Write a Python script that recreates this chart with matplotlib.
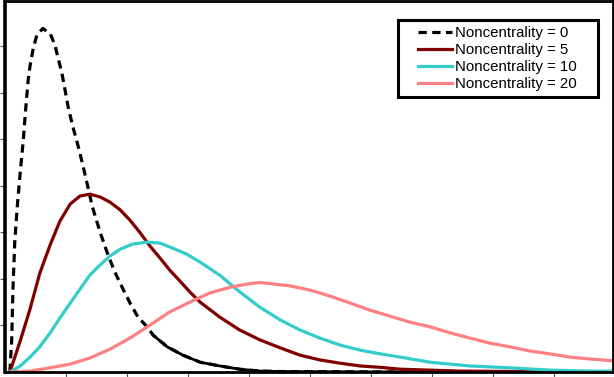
import matplotlib.pyplot as plt
import numpy as np
from matplotlib.patches import Rectangle

plt.rcParams['font.family'] = ['Liberation Sans', 'DejaVu Sans']

# values (x: 0..10, y: 0..8 in tick units)
x_nc0 = [0.08, 0.11, 0.13, 0.16, 0.20, 0.25, 0.30, 0.34, 0.38, 0.41, 0.46, 0.52, 0.62, 0.74,
         0.82, 0.87, 0.93, 0.98, 1.03, 1.11, 1.20, 1.28, 1.36, 1.43, 1.56, 1.69, 1.80, 1.92,
         2.05, 2.18, 2.33, 2.43, 2.66, 2.92, 3.20, 3.52, 3.85, 4.18, 4.51, 6.48, 9.95]
y_nc0 = [0.0, 0.69, 1.76, 2.79, 3.54, 4.29, 4.98, 5.67, 6.27, 6.57, 6.93, 7.23, 7.38, 7.27,
         7.02, 6.74, 6.44, 6.09, 5.73, 5.28, 4.85, 4.42, 3.97, 3.56, 3.00, 2.51, 2.15, 1.82,
         1.48, 1.18, 0.97, 0.79, 0.54, 0.36, 0.21, 0.13, 0.06, 0.02, 0.01, 0.0, 0.0]

x_nc5 = [0.08, 0.25, 0.41, 0.57, 0.74, 0.90, 1.07, 1.23, 1.39, 1.56, 1.72, 1.89, 2.05, 2.21,
         2.38, 2.54, 2.70, 2.87, 3.03, 3.20, 3.52, 3.85, 4.18, 4.51, 4.84, 5.16, 5.49, 5.82,
         6.15, 6.48, 7.46, 8.44, 9.97]
y_nc5 = [0.0, 0.67, 1.35, 2.12, 2.73, 3.24, 3.61, 3.78, 3.82, 3.76, 3.65, 3.48, 3.26, 3.00,
         2.70, 2.45, 2.19, 1.95, 1.72, 1.50, 1.18, 0.90, 0.69, 0.52, 0.36, 0.26, 0.19, 0.13,
         0.10, 0.06, 0.02, 0.01, 0.0]

x_nc10 = [0.08, 0.25, 0.41, 0.57, 0.74, 0.90, 1.07, 1.23, 1.39, 1.56, 1.72, 1.89, 2.10, 2.33,
          2.54, 2.75, 2.98, 3.20, 3.52, 3.85, 4.18, 4.51, 4.84, 5.16, 5.49, 5.82, 6.15, 6.48,
          6.97, 7.62, 8.28, 8.93, 9.59, 9.97]
y_nc10 = [0.0, 0.13, 0.32, 0.54, 0.84, 1.16, 1.48, 1.78, 2.08, 2.30, 2.49, 2.64, 2.75, 2.79,
          2.77, 2.66, 2.53, 2.36, 2.08, 1.72, 1.39, 1.12, 0.90, 0.73, 0.58, 0.47, 0.39, 0.32,
          0.21, 0.13, 0.09, 0.04, 0.02, 0.02]

x_nc20 = [0.08, 0.41, 0.74, 1.07, 1.39, 1.72, 2.05, 2.38, 2.70, 3.03, 3.36, 3.69, 4.02, 4.18,
          4.34, 4.67, 5.00, 5.33, 5.66, 5.98, 6.31, 6.64, 6.97, 7.30, 7.62, 7.95, 8.28, 8.61,
          8.93, 9.26, 9.59, 9.97]
y_nc20 = [0.0, 0.02, 0.09, 0.17, 0.30, 0.49, 0.73, 1.01, 1.29, 1.50, 1.70, 1.82, 1.90, 1.92,
          1.90, 1.85, 1.76, 1.63, 1.48, 1.33, 1.20, 1.07, 0.97, 0.84, 0.73, 0.62, 0.54, 0.45,
          0.39, 0.32, 0.28, 0.24]

labels = ['Noncentrality = 0', 'Noncentrality = 5', 'Noncentrality = 10', 'Noncentrality = 20']
colors = ['black', '#800000', '#33CCCC', '#FF8080']

fig = plt.figure(figsize=(6.14, 3.77), dpi=100)
ax = fig.add_axes([5 / 614, 5 / 377, 607.5 / 614, 371.5 / 377])

lw = 2.3
ax.plot(x_nc0, y_nc0, color=colors[0], lw=lw, linestyle=(0, (2.6, 1.7)), label=labels[0])
# the flat tail of the dashed curve renders as a solid line in the original
tail = np.array(x_nc0) >= 2.4
ax.plot(np.array(x_nc0)[tail], np.array(y_nc0)[tail], color=colors[0], lw=2.0)
ax.plot(x_nc5, y_nc5, color=colors[1], lw=lw, label=labels[1], solid_joinstyle='round')
ax.plot(x_nc10, y_nc10, color=colors[2], lw=lw, label=labels[2], solid_joinstyle='round')
ax.plot(x_nc20, y_nc20, color=colors[3], lw=lw, label=labels[3], solid_joinstyle='round')

ax.set_xlim(0, 9.96)
ax.set_ylim(0, 7.98)
ax.set_xticks(np.arange(1, 10))
ax.set_yticks(np.arange(1, 8))
ax.set_xticklabels([])
ax.set_yticklabels([])
ax.tick_params(direction='out', length=3.5, width=0.8, color='#555555')
for side in ['top', 'right', 'bottom']:
    ax.spines[side].set_linewidth(2)
ax.spines['left'].set_linewidth(2.6)
for s in ax.spines.values():
    s.set_color('black')
    s.set_capstyle('projecting')

leg = ax.legend(loc='upper left', bbox_to_anchor=(418 / 614, 1 - 26 / 377),
                bbox_transform=fig.transFigure, frameon=False, fontsize=10.8,
                handlelength=2.27, handletextpad=0.2, labelspacing=0.2,
                borderpad=0, borderaxespad=0)
fig.patches.append(Rectangle((398 / 614, 1 - 97 / 377), 200 / 614, 77 / 377,
                             transform=fig.transFigure, fill=False,
                             edgecolor='black', lw=2.2, zorder=5))

fig.savefig('out.png', dpi=100)
